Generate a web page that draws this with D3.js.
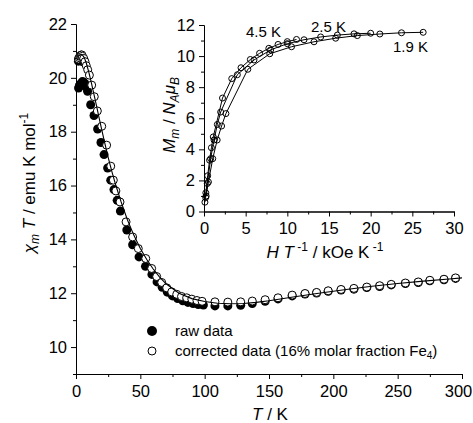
<!DOCTYPE html>
<html lang="en">
<head>
<meta charset="utf-8">
<script src="https://cdn.jsdelivr.net/npm/d3@7"></script>
<style type="text/css">
body { margin: 0; background: #fff; }
svg text { font-family: "Liberation Sans", Arial, sans-serif; fill: #000; }
.axis path, .axis line { stroke: #000; stroke-width: 1; }
</style>
</head>
<body>
<script type="text/javascript">

// chi*T vs T, raw data (two low-T clusters, then one curve)
var rawT = [1.9,2.2,2.6,3,3.5,4,4.5,5, 2,2.5,3,4,5,6,7,8,9,
  11.4,14,16.8,19.4,21.8,24.6,27,29.5,32,34.5,39.5,44,49,54,59,63,67,71,75,79,83,87,91,95,99,
  108,118,128,137,147,157,168,178,187,196,206,216,226,236,245,256,266,275,286,295];
var rawChi = [20.62,20.68,20.72,20.74,20.72,20.7,20.66,20.6, 19.62,19.68,19.74,19.8,19.86,19.84,19.78,19.66,19.5,
  19.0,18.6,18.1,17.6,17.15,16.65,16.2,15.85,15.45,15.05,14.35,13.8,13.35,13.0,12.7,12.42,12.22,12.04,11.9,11.8,11.72,11.66,11.62,11.58,11.56,
  11.53,11.53,11.55,11.62,11.7,11.79,11.9,11.97,12.01,12.07,12.12,12.15,12.21,12.25,12.31,12.36,12.4,12.46,12.5,12.55];

// corrected data (16% molar fraction Fe4)
var corT = [1.9,2.5,3,3.5,4,4.5,5,6,7,8,9.1,10.4,12.2,14.2,16.6,20,23.8,27,29,31,
  34.2,38.9,44,48.4,54.2,58.8,62.7,66.6,70.5,74.4,78.3,82,86,90,94,98,108,118,128,137,
  147,157,168,178,187,196,206,216,226,236,245,256,266,275,286,295];
var corChi = [20.7,20.75,20.8,20.82,20.85,20.85,20.8,20.72,20.6,20.45,20.3,20.1,19.73,19.3,18.77,18.2,17.5,16.72,16.2,15.8,
  15.39,14.65,14.09,13.66,13.29,12.92,12.62,12.4,12.2,12.05,11.96,11.88,11.83,11.78,11.73,11.7,11.68,11.67,11.68,11.71,
  11.76,11.83,11.93,11.99,12.03,12.09,12.14,12.18,12.23,12.28,12.33,12.38,12.42,12.48,12.52,12.57];

// fit curve
var fitT = [1.9,3,4,5,6,7,8,10,12,14,16,18,20,22,25,28,31,35,40,45,50,55,60,65,70,80,90,100,110,120,
  130,140,150,170,190,210,230,250,270,290,300];
var fitChi = [20.8,20.85,20.87,20.85,20.78,20.68,20.55,20.2,19.8,19.38,18.95,18.5,18.08,17.65,17.05,16.5,16.0,15.4,14.72,14.15,
  13.66,13.25,12.9,12.6,12.35,12.0,11.8,11.69,11.63,11.61,11.62,11.66,11.72,11.87,12.01,12.14,12.26,12.36,12.45,12.53,12.57];

// inset: M vs H/T at three temperatures
var h19 = [0.26,0.53,1.05,1.58,2.11,2.63,5.26,7.89,10.5,13.2,15.8,18.4,21.1,23.7,26.3];
var m19 = [1.0,1.9,3.4,4.6,5.5,6.3,9.15,10.15,10.6,10.92,11.15,11.32,11.42,11.5,11.53];
var h25 = [0.2,0.4,0.8,1.2,1.6,2,4,6,8,10,12,14,16,18,20];
var m25 = [0.9,1.8,3.4,4.6,5.6,6.4,8.8,9.75,10.4,10.8,11.05,11.23,11.35,11.43,11.47];
var h45 = [0.11,0.22,0.44,0.67,0.89,1.11,2.22,3.33,4.44,5.56,6.67,7.78,8.89,10,11.1];
var m45 = [0.6,1.2,2.3,3.3,4.1,4.8,7.3,8.55,9.25,9.78,10.18,10.5,10.75,10.93,11.07];

var xTicks = [0,50,100,150,200,250,300];
var yTicks = [10,12,14,16,18,20,22];
var ixTicks = [0,5,10,15,20,25,30];
var iyTicks = [0,2,4,6,8,10,12];

var width = 473, height = 423;

var svg = d3.select("body").append("svg")
  .attr("width", width)
  .attr("height", height);

// main scales
var x = d3.scaleLinear().domain([0,300]).range([76,462]);
var y = d3.scaleLinear().domain([9,22]).range([374,24]);

// inset scales
var ix = d3.scaleLinear().domain([0,30]).range([204,454]);
var iy = d3.scaleLinear().domain([0,12]).range([211.5,25]);

function styleAxis(g, fs) {
  g.attr("class", "axis").attr("font-family", null).attr("font-size", null);
  g.selectAll("text").style("font-size", fs + "px");
}

function drawAxes(sx, sy, xt, yt, xMinor, yMinor) {
  // minor ticks
  svg.append("g").attr("transform", "translate(0," + sy.range()[0] + ")")
    .call(d3.axisBottom(sx).tickValues(xMinor).tickSize(3).tickSizeOuter(0).tickFormat(""))
    .call(styleAxis, 16.5);
  svg.append("g").attr("transform", "translate(" + sx.range()[0] + ",0)")
    .call(d3.axisLeft(sy).tickValues(yMinor).tickSize(3).tickSizeOuter(0).tickFormat(""))
    .call(styleAxis, 16.5);
  // major ticks
  var gx = svg.append("g").attr("transform", "translate(0," + sy.range()[0] + ")")
    .call(d3.axisBottom(sx).tickValues(xt).tickSize(5).tickSizeOuter(0).tickPadding(6))
    .call(styleAxis, 16.5);
  svg.append("g").attr("transform", "translate(" + sx.range()[0] + ",0)")
    .call(d3.axisLeft(sy).tickValues(yt).tickSize(5).tickSizeOuter(0).tickPadding(4))
    .call(styleAxis, 16.5);
  return gx;
}

var mainX = drawAxes(x, y, xTicks, yTicks, d3.range(25, 300, 50), d3.range(9, 22, 2));
drawAxes(ix, iy, ixTicks, iyTicks, d3.range(2.5, 30, 5), d3.range(1, 12, 2));

// keep the last label inside the window
mainX.selectAll(".tick text").filter(function(d) { return d === 300; }).attr("dx", -4);

// main data
var rawData = rawT.map(function(t, i) { return [t, rawChi[i]]; });
var corData = corT.map(function(t, i) { return [t, corChi[i]]; });
var fitData = fitT.map(function(t, i) { return [t, fitChi[i]]; });

svg.append("g").selectAll("circle").data(rawData).enter().append("circle")
  .attr("cx", function(d) { return x(d[0]); })
  .attr("cy", function(d) { return y(d[1]); })
  .attr("r", 4.5)
  .attr("fill", "#000");

svg.append("g").selectAll("circle").data(corData).enter().append("circle")
  .attr("cx", function(d) { return x(d[0]); })
  .attr("cy", function(d) { return y(d[1]); })
  .attr("r", 4)
  .attr("fill", "#fff")
  .attr("stroke", "#000")
  .attr("stroke-width", 1);

var line = d3.line().x(function(d) { return x(d[0]); }).y(function(d) { return y(d[1]); });
svg.append("path").datum(fitData)
  .attr("d", line)
  .attr("fill", "none")
  .attr("stroke", "#000")
  .attr("stroke-width", 1.1);

// inset curves
var iline = d3.line().x(function(d) { return ix(d[0]); }).y(function(d) { return iy(d[1]); });
[[h45, m45], [h25, m25], [h19, m19]].forEach(function(s) {
  var pts = s[0].map(function(h, i) { return [h, s[1][i]]; });
  svg.append("path").datum(pts)
    .attr("d", iline)
    .attr("fill", "none")
    .attr("stroke", "#000")
    .attr("stroke-width", 1);
  svg.append("g").selectAll("circle").data(pts).enter().append("circle")
    .attr("cx", function(d) { return ix(d[0]); })
    .attr("cy", function(d) { return iy(d[1]); })
    .attr("r", 3)
    .attr("fill", "none")
    .attr("stroke", "#000")
    .attr("stroke-width", 1);
});

// temperature labels
svg.append("text").attr("x", 246).attr("y", 37).style("font-size", "15px").text("4.5 K");
svg.append("text").attr("x", 311).attr("y", 32).style("font-size", "15px").text("2.5 K");
svg.append("text").attr("x", 393).attr("y", 52).style("font-size", "15px").text("1.9 K");

// axis titles
var tx = svg.append("text").attr("x", 270).attr("y", 420).attr("text-anchor", "middle").style("font-size", "17px");
tx.append("tspan").style("font-style", "italic").text("T");
tx.append("tspan").text(" / K");

var ty = svg.append("text").attr("transform", "translate(35,183) rotate(-90)")
  .attr("text-anchor", "middle").style("font-size", "17px");
ty.append("tspan").style("font-style", "italic").text("\u03c7");
ty.append("tspan").style("font-style", "italic").style("font-size", "12px").attr("dy", 4).text("m");
ty.append("tspan").style("font-style", "italic").attr("dy", -4).text(" T");
ty.append("tspan").text(" / emu K mol");
ty.append("tspan").style("font-size", "12px").attr("dy", -7).text("-1");

var itx = svg.append("text").attr("x", 325).attr("y", 258).attr("text-anchor", "middle").style("font-size", "17px");
itx.append("tspan").style("font-style", "italic").text("H T");
itx.append("tspan").style("font-size", "12px").attr("dy", -7).text(" -1");
itx.append("tspan").attr("dy", 7).text(" / kOe K");
itx.append("tspan").style("font-size", "12px").attr("dy", -7).text(" -1");

var ity = svg.append("text").attr("transform", "translate(175,115) rotate(-90)")
  .attr("text-anchor", "middle").style("font-size", "17px");
ity.append("tspan").style("font-style", "italic").text("M");
ity.append("tspan").style("font-style", "italic").style("font-size", "12px").attr("dy", 4).text("m");
ity.append("tspan").attr("dy", -4).text(" / ");
ity.append("tspan").style("font-style", "italic").text("N");
ity.append("tspan").style("font-style", "italic").style("font-size", "12px").attr("dy", 4).text("A");
ity.append("tspan").style("font-style", "italic").attr("dy", -4).text("\u03bc");
ity.append("tspan").style("font-style", "italic").style("font-size", "12px").attr("dy", 4).text("B");

// legend
svg.append("circle").attr("cx", 152).attr("cy", 331).attr("r", 5).attr("fill", "#000");
svg.append("circle").attr("cx", 152).attr("cy", 351).attr("r", 4).attr("fill", "#fff").attr("stroke", "#000");
svg.append("text").attr("x", 175).attr("y", 336).style("font-size", "15px").text("raw data");
var lt = svg.append("text").attr("x", 175).attr("y", 356).style("font-size", "15px");
lt.append("tspan").text("corrected data (16% molar fraction Fe");
lt.append("tspan").style("font-size", "10px").attr("dy", 3).text("4");
lt.append("tspan").attr("dy", -3).text(")");

</script>
</body>
</html>
